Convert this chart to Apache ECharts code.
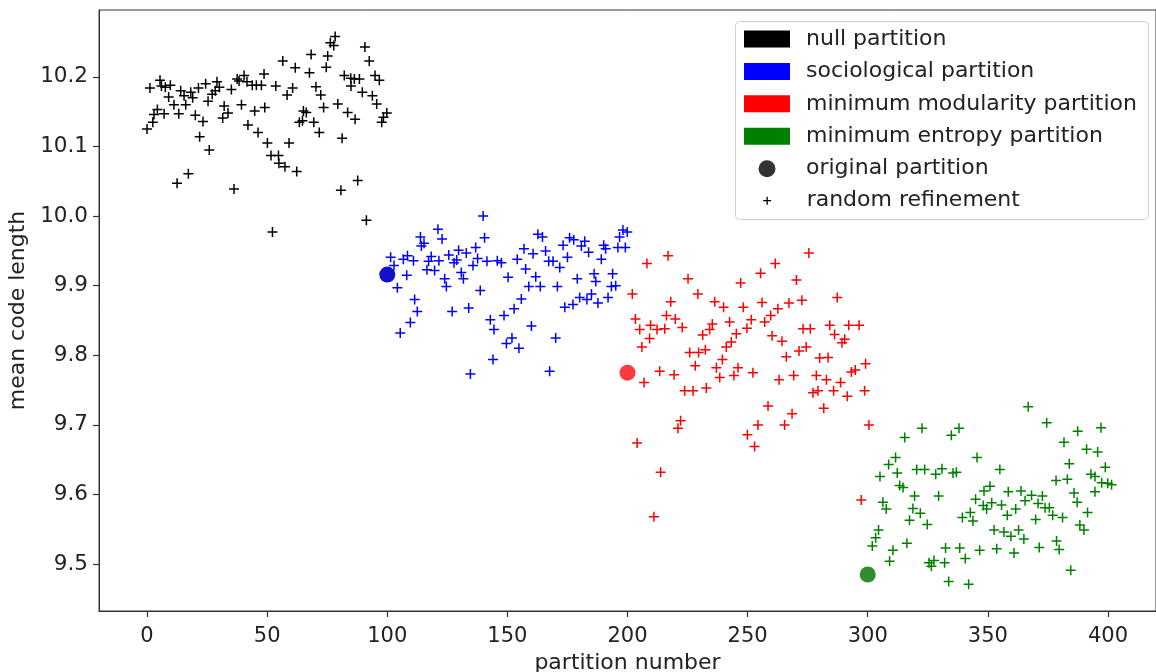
<!DOCTYPE html>
<html><head><meta charset="utf-8">
<script src="https://cdn.jsdelivr.net/npm/echarts@6/dist/echarts.min.js"></script>
<style>html,body{margin:0;padding:0;background:#fff}#c{width:1156px;height:672px}</style>
</head><body><div id="c"></div>
<script>
const seriesNames = ['null partition','sociological partition','minimum modularity partition','minimum entropy partition'];
const markerNames = ['original partition','random refinement'];
const xTicks = [0,50,100,150,200,250,300,350,400];
const yTicks = [9.5,9.6,9.7,9.8,9.9,10.0,10.1,10.2];
const xRange = [-20, 420];
const yRange = [9.4326, 10.2961];
const xTitle = 'partition number';
const yTitle = 'mean code length';

const nullPts = [[1.2,10.184],[5.4,10.195],[6.0,10.187],[7.6,10.185],[9.7,10.188],[9.0,10.171],[11.2,10.160],[14.0,10.180],[15.4,10.173],[16.1,10.160],[18.2,10.178],[19.0,10.170],[21.4,10.184],[24.4,10.190],[25.4,10.165],[27.1,10.175],[28.4,10.180],[29.1,10.193],[30.1,10.185],[35.1,10.182],[32.1,10.158],[33.7,10.148],[31.5,10.141],[37.5,10.197],[38.3,10.194],[40.4,10.202],[41.6,10.193],[43.8,10.188],[45.5,10.188],[47.6,10.188],[48.7,10.204],[39.3,10.160],[44.8,10.151],[49.0,10.156],[42.0,10.131],[46.2,10.120],[50.1,10.105],[4.3,10.153],[2.9,10.146],[7.1,10.147],[2.4,10.135],[0.0,10.125],[13.2,10.147],[20.1,10.145],[23.3,10.136],[21.9,10.114],[25.9,10.095],[17.2,10.061],[12.5,10.047],[36.2,10.039],
[78.3,10.258],[76.3,10.249],[77.7,10.245],[90.7,10.243],[68.3,10.232],[75.2,10.230],[92.5,10.223],[56.5,10.223],[61.7,10.213],[67.6,10.206],[74.6,10.214],[82.1,10.202],[84.8,10.198],[86.3,10.197],[88.4,10.197],[84.9,10.187],[94.9,10.202],[96.7,10.195],[89.6,10.178],[93.8,10.173],[95.6,10.161],[99.8,10.148],[98.4,10.142],[97.7,10.135],[53.6,10.187],[60.6,10.184],[58.3,10.174],[70.3,10.186],[72.3,10.174],[73.5,10.156],[79.4,10.161],[83.5,10.149],[86.6,10.139],[65.1,10.151],[66.3,10.149],[63.4,10.135],[64.7,10.137],[69.4,10.135],[71.7,10.120],[81.2,10.112],[59.1,10.105],[51.6,10.087],[54.7,10.087],[54.9,10.076],[57.4,10.071],[62.3,10.064],[87.7,10.051],[80.7,10.037],[91.3,9.994],[52.2,9.977]];

const socioPts = [[139.9,10.000],[121.1,9.981],[113.8,9.970],[122.8,9.967],[115.3,9.961],[114.2,9.957],[140.5,9.969],[136.8,9.955],[129.7,9.951],[132.9,9.947],[125.6,9.944],[101.4,9.941],[106.7,9.938],[108.4,9.943],[110.9,9.936],[118.3,9.942],[117.2,9.935],[121.5,9.936],[128.9,9.937],[127.8,9.933],[137.6,9.939],[141.5,9.935],[145.8,9.936],[147.5,9.933],[102.8,9.929],[116.5,9.923],[119.7,9.922],[108.1,9.915],[130.8,9.919],[135.7,9.929],[131.7,9.910],[123.9,9.910],[124.6,9.899],[104.2,9.897],[150.3,9.912],[138.7,9.893],[111.4,9.880],[112.5,9.863],[127.0,9.863],[133.9,9.868],[109.6,9.847],[105.4,9.832],[142.9,9.851],[148.6,9.857],[144.4,9.837],[149.6,9.817],[144.0,9.794],[134.6,9.773],
[162.7,9.974],[164.6,9.970],[175.9,9.969],[177.6,9.966],[182.2,9.964],[180.8,9.957],[173.2,9.958],[183.8,9.948],[190.1,9.958],[190.9,9.953],[196.0,9.955],[199.1,9.955],[198.1,9.980],[199.9,9.977],[196.7,9.970],[156.9,9.953],[154.1,9.938],[160.7,9.946],[165.9,9.950],[167.2,9.935],[169.0,9.935],[171.8,9.926],[175.0,9.941],[189.1,9.938],[157.6,9.924],[161.8,9.913],[158.9,9.899],[163.7,9.899],[170.8,9.899],[179.1,9.910],[186.1,9.917],[186.8,9.906],[193.8,9.917],[193.3,9.899],[195.1,9.900],[155.8,9.881],[152.8,9.867],[173.9,9.869],[177.3,9.873],[180.1,9.883],[183.1,9.880],[185.0,9.888],[187.7,9.875],[191.9,9.883],[160.0,9.842],[151.9,9.825],[154.8,9.810],[170.1,9.825],[167.6,9.777]];

const modPts = [[216.9,9.943],[208.1,9.932],[225.2,9.910],[247.1,9.904],[202.0,9.888],[229.3,9.888],[218.0,9.877],[236.3,9.877],[240.0,9.869],[248.2,9.869],[203.3,9.852],[216.2,9.857],[219.9,9.852],[209.6,9.843],[205.1,9.837],[212.3,9.837],[215.5,9.838],[222.8,9.840],[235.3,9.845],[234.2,9.837],[242.5,9.848],[249.7,9.839],[231.3,9.829],[245.3,9.831],[209.2,9.824],[206.0,9.812],[243.2,9.819],[241.1,9.812],[225.9,9.804],[229.6,9.804],[232.4,9.808],[239.5,9.794],[228.2,9.785],[237.0,9.782],[246.0,9.782],[213.4,9.777],[219.4,9.772],[206.9,9.761],[238.4,9.768],[244.3,9.771],[223.8,9.749],[227.3,9.749],[232.8,9.753],[222.1,9.706],[221.0,9.695],[249.9,9.686],[204.0,9.674],[213.8,9.632],[211.0,9.568],
[275.5,9.947],[261.5,9.932],[255.4,9.918],[270.3,9.908],[287.3,9.883],[256.0,9.876],[262.6,9.867],[267.2,9.875],[272.6,9.879],[259.6,9.857],[251.5,9.851],[257.1,9.848],[273.1,9.838],[276.1,9.838],[284.2,9.843],[292.1,9.843],[296.4,9.843],[286.2,9.830],[290.4,9.823],[289.3,9.818],[260.2,9.828],[264.3,9.820],[274.4,9.812],[271.4,9.806],[266.1,9.798],[280.0,9.796],[283.5,9.797],[299.1,9.788],[252.2,9.775],[263.1,9.765],[269.2,9.771],[278.6,9.771],[282.8,9.765],[293.2,9.776],[294.8,9.779],[288.7,9.761],[277.2,9.746],[279.3,9.749],[285.8,9.749],[291.5,9.741],[298.7,9.749],[258.5,9.727],[268.5,9.716],[281.7,9.724],[254.3,9.700],[265.4,9.700],[300.5,9.700],[252.9,9.669],[297.3,9.592]];

const entPts = [[322.6,9.695],[338.0,9.695],[334.8,9.685],[315.4,9.682],[345.5,9.653],[311.6,9.653],[308.7,9.643],[312.3,9.631],[305.1,9.626],[320.4,9.636],[323.7,9.636],[330.9,9.637],[328.3,9.629],[335.5,9.631],[336.9,9.632],[313.3,9.613],[314.7,9.610],[319.5,9.598],[329.5,9.598],[306.3,9.589],[307.7,9.579],[318.8,9.580],[321.9,9.573],[317.4,9.563],[324.8,9.557],[344.9,9.593],[342.7,9.574],[339.4,9.567],[343.8,9.562],[304.5,9.549],[303.3,9.538],[301.9,9.526],[316.3,9.530],[310.5,9.520],[309.1,9.504],[332.4,9.523],[338.3,9.523],[346.6,9.520],[340.6,9.508],[325.5,9.502],[327.6,9.505],[326.5,9.497],[332.0,9.502],[333.7,9.475],[342.0,9.471],
[366.8,9.726],[374.5,9.703],[387.4,9.691],[397.1,9.696],[381.7,9.675],[391.1,9.665],[395.7,9.661],[383.9,9.644],[398.9,9.639],[355.0,9.636],[392.9,9.629],[394.6,9.626],[378.4,9.620],[383.1,9.622],[397.4,9.617],[399.9,9.616],[401.5,9.614],[350.9,9.612],[348.4,9.605],[358.5,9.604],[363.8,9.605],[385.9,9.602],[394.6,9.604],[368.2,9.599],[372.7,9.598],[365.5,9.591],[370.9,9.587],[387.2,9.589],[351.6,9.588],[355.7,9.585],[348.1,9.584],[349.5,9.579],[373.8,9.581],[375.6,9.581],[361.6,9.579],[377.0,9.570],[358.1,9.570],[381.1,9.567],[391.5,9.574],[369.9,9.564],[388.3,9.556],[390.0,9.549],[352.6,9.549],[356.7,9.546],[362.8,9.549],[359.6,9.540],[365.0,9.536],[378.6,9.533],[379.7,9.521],[353.7,9.522],[360.9,9.516],[371.4,9.524],[384.5,9.491]];

const originalPts = [[100, 9.916],[200, 9.775],[300, 9.485]];

const seriesColors = ['#000000','#0000ff','#ff0000','#008000'];
const originalColors = ['#1111cc','#ff3a3a','#2f8f2f'];
const allPts = [nullPts, socioPts, modPts, entPts];

const FONT = 'DejaVu Sans';
const TXT = '#222';
const plusPath = 'path://M0,5L10,5M5,0L5,10';

const series = seriesNames.map((n, i) => ({
  name: n, type: 'scatter', data: allPts[i],
  symbol: plusPath, symbolSize: 10,
  itemStyle: { color: seriesColors[i], borderColor: seriesColors[i], borderWidth: 1.5, opacity: 1 },
  emphasis: { disabled: true }, z: 2
}));
series.push({
  name: markerNames[0], type: 'scatter', symbol: 'circle', symbolSize: 16,
  itemStyle: { opacity: 1 },
  data: originalPts.map((p, i) => ({ value: p, itemStyle: { color: originalColors[i], opacity: 1 } })),
  emphasis: { disabled: true }, z: 3
});
series.push({
  name: markerNames[1], type: 'scatter', data: [], symbol: plusPath, symbolSize: 8,
  itemStyle: { color: '#000', borderColor: '#000', borderWidth: 1.3, opacity: 1 }
});

const legendText = { fontSize: 22, lineHeight: 22, color: TXT, fontFamily: FONT };

const option = {
  animation: false,
  backgroundColor: '#fff',
  textStyle: { fontFamily: FONT },
  grid: { left: 99, right: 0, top: 10, bottom: 61, show: true, borderColor: '#333', borderWidth: 1, containLabel: false, outerBoundsMode: 'none' },
  xAxis: {
    type: 'value', min: xRange[0], max: xRange[1],
    name: xTitle, nameLocation: 'middle', nameGap: 41,
    nameTextStyle: { fontSize: 22, color: TXT, fontFamily: FONT },
    splitLine: { show: false },
    axisLine: { show: true, onZero: false, lineStyle: { color: '#333', width: 1 } },
    axisTick: { show: true, inside: false, length: 6, customValues: xTicks, lineStyle: { color: '#333', width: 1.2 } },
    axisLabel: { customValues: xTicks, margin: 15, fontSize: 21, color: TXT, fontFamily: FONT, formatter: v => String(v) }
  },
  yAxis: {
    type: 'value', min: yRange[0], max: yRange[1],
    name: yTitle, nameLocation: 'middle', nameGap: 61, nameRotate: 90,
    nameTextStyle: { fontSize: 22, color: TXT, fontFamily: FONT },
    splitLine: { show: false },
    axisLine: { show: true, onZero: false, lineStyle: { color: '#333', width: 1 } },
    axisTick: { show: true, inside: false, length: 6, customValues: yTicks, lineStyle: { color: '#333', width: 1.2 } },
    axisLabel: { customValues: yTicks, margin: 11, fontSize: 21.5, color: TXT, fontFamily: FONT, formatter: v => v.toFixed(1) }
  },
  graphic: [{
    type: 'rect', left: 735, top: 21, z: 5,
    shape: { width: 413, height: 198, r: 4 },
    style: { fill: 'rgba(255,255,255,0.85)', stroke: '#d0d0d0', lineWidth: 1 }
  }],
  legend: [
    {
      data: seriesNames.map((n, i) => ({ name: n, icon: 'rect', itemStyle: { color: seriesColors[i], borderWidth: 0, opacity: 1 } })),
      orient: 'vertical', left: 744, top: 28, padding: 0, itemWidth: 46, itemHeight: 17, itemGap: 10.4,
      textStyle: Object.assign({ padding: [0, 0, 0, 11] }, legendText), selectedMode: false, z: 6
    },
    {
      data: [{ name: markerNames[0], icon: 'circle', itemStyle: { color: '#333', borderWidth: 0, opacity: 1 } }],
      orient: 'vertical', left: 758.5, top: 157.7, padding: 0, itemWidth: 17, itemHeight: 17,
      textStyle: Object.assign({ padding: [0, 0, 0, 25.5] }, legendText), selectedMode: false, z: 6
    },
    {
      data: [{ name: markerNames[1], icon: plusPath, itemStyle: { color: '#000', borderColor: '#000', borderWidth: 1.3, opacity: 1 } }],
      orient: 'vertical', left: 762.5, top: 189.7, padding: 0, itemWidth: 8, itemHeight: 8,
      textStyle: Object.assign({ padding: [0, 0, 0, 30.5] }, legendText), selectedMode: false, z: 6
    }
  ],
  series: series
};

const chart = echarts.init(document.getElementById('c'), null, { renderer: 'canvas' });
chart.setOption(option);
</script>
</body></html>
